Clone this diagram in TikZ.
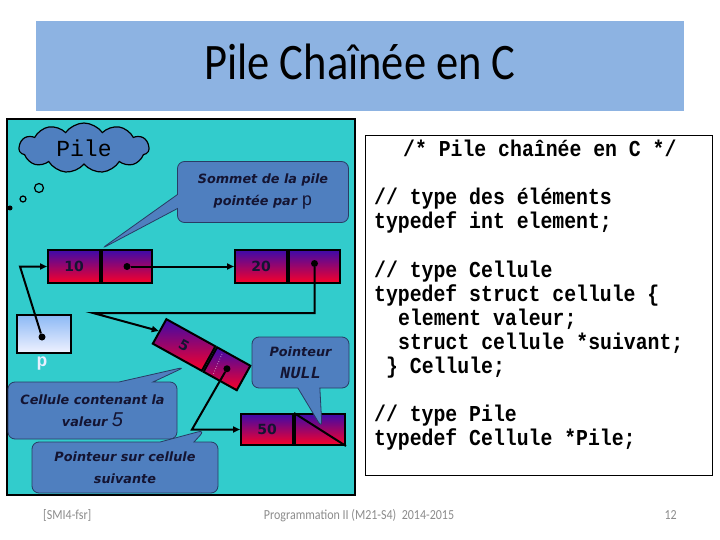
\documentclass[tikz,border=0pt]{standalone}
\usepackage{fontspec}
\setmainfont{Carlito}
\newfontfamily\monof{Liberation Mono}
\newfontfamily\djv{DejaVu Sans}
\newfontfamily\lsans{Liberation Sans}
\usetikzlibrary{shapes.symbols,shapes.callouts,arrows.meta,calc}
\definecolor{banner}{RGB}{141,179,226}
\definecolor{panel}{RGB}{50,204,204}
\definecolor{cblue}{RGB}{79,127,191}
\definecolor{cborder}{RGB}{40,60,100}
\definecolor{ctext}{RGB}{20,20,50}
\definecolor{celltop}{RGB}{60,10,170}
\definecolor{cellbot}{RGB}{250,0,40}
\definecolor{ptop}{RGB}{140,185,245}
\definecolor{pbot}{RGB}{240,242,255}
\definecolor{foot}{RGB}{140,140,140}
\newcommand\vs[1]{\scalebox{1}[1.15]{#1}}
\begin{document}
\begin{tikzpicture}[x=1pt,y=-1pt,
  cellpart/.style={draw=black, line width=2pt, top color=celltop, bottom color=cellbot,
    minimum height=33pt, inner sep=0pt, font=\djv\bfseries\fontsize{14}{16}\selectfont, text=ctext},
  dotnode/.style={circle, fill=black, inner sep=0pt, minimum size=7pt},
  conn/.style={line width=2pt, -{Triangle[length=7pt,width=6pt]}},
  callbox/.style={rectangle callout, draw=cborder, fill=cblue, line width=0.8pt,
    rounded corners=7pt, text=ctext, align=center, inner sep=2pt,
    font=\djv\bfseries\itshape\fontsize{12.8}{22}\selectfont},
  codeline/.style={anchor=base west, inner sep=0pt, font=\monof\bfseries\fontsize{19.8}{24}\selectfont},
  footer/.style={inner sep=0pt, text=foot, font=\fontsize{12}{14}\selectfont}
]
\path[use as bounding box, fill=white] (0,0) rectangle (720,540);

% title banner
\fill[banner] (36,21) rectangle (684,111);
\node[anchor=base, inner sep=0pt, font=\fontsize{44.5}{44}\selectfont] (title) at (360,80) {\vs{Pile Chaînée en C}};

% left panel
\draw[line width=2pt, fill=panel] (7,119) rectangle (355,495);

% code box
\draw[line width=0.6pt] (365,135) rectangle (712,475);
\node[codeline] (code1) at (403,157) {\vs{/* Pile chaînée en C */}};
\node[codeline] (code2) at (374,205) {\vs{// type des éléments}};
\node[codeline] (code3) at (374,229) {\vs{typedef int element;}};
\node[codeline] (code4) at (374,277) {\vs{// type Cellule}};
\node[codeline] (code5) at (374,301) {\vs{typedef struct cellule \{}};
\node[codeline] (code6) at (398,325) {\vs{element valeur;}};
\node[codeline] (code7) at (398,349) {\vs{struct cellule *suivant;}};
\node[codeline] (code8) at (386,373) {\vs{\} Cellule;}};
\node[codeline] (code9) at (374,421) {\vs{// type Pile}};
\node[codeline] (code10) at (374,445) {\vs{typedef Cellule *Pile;}};

% cloud and bubbles
\node[cloud, cloud puffs=11, cloud puff arc=110, aspect=2.6, minimum width=130pt, minimum height=50pt,
  draw=black, line width=1.2pt, fill=cblue, inner sep=0pt,
  font=\monof\fontsize{23}{23}\selectfont] (cloud) at (84,148) {Pile};
\node[circle, draw=black, line width=1.2pt, fill=panel, minimum size=9pt, inner sep=0pt] (bub1) at (39,188) {};
\node[circle, draw=black, line width=1.2pt, fill=panel, minimum size=6pt, inner sep=0pt] (bub2) at (23,199) {};
\node[circle, fill=black, minimum size=5pt, inner sep=0pt] (bub3) at (10,208) {};

% cells 10 and 20
\node[cellpart, minimum width=52pt] (c10v) at (74,266.5) {10};
\node[cellpart, minimum width=50pt, anchor=west] (c10p) at (c10v.east) {};
\node[cellpart, minimum width=52pt] (c20v) at (261,266.5) {20};
\node[cellpart, minimum width=51pt, anchor=west] (c20p) at (c20v.east) {};
\node[dotnode] (d10) at (c10p.center) {};
\node[dotnode] (d20) at ([yshift=3pt]c20p.center) {};

% p box
\node[draw=black, line width=2pt, top color=ptop, bottom color=pbot, minimum width=54pt, minimum height=38pt, inner sep=0pt] (pbox) at (44,334) {};
\node[dotnode] (dp) at (42,337) {};
\node[text={rgb,255:red,232;green,240;blue,255}, font=\monof\bfseries\fontsize{18}{18}\selectfont, inner sep=0pt] (plabel) at (42,364) {p};

% cell 5 (rotated)
\node[cellpart, rotate=-29, minimum width=56pt, minimum height=28pt] (c5v) at (184.1,345) {5};
\node[cellpart, rotate=-29, minimum width=38pt, minimum height=28pt, anchor=west] (c5p) at (c5v.east) {};
\draw[white, dotted, line width=0.6pt] (222,354) -- (213,375);
\node[dotnode] (d5) at (c5p.center) {};

% cell 50
\node[cellpart, minimum width=52pt, minimum height=31pt] (c50v) at (267,429.5) {50};
\node[cellpart, minimum width=50pt, minimum height=31pt, anchor=west] (c50p) at (c50v.east) {};
\draw[line width=2pt] (c50p.north west) -- (c50p.south east);

% connectors
\coordinate (j1) at (20,266.5);
\coordinate (j2) at (93,313);
\coordinate (j3) at (192,429.5);
\draw[conn] (dp) -- (j1) -- (c10v.west);
\draw[conn] (d10) -- (c20v.west);
\draw[conn] (d20) |- (j2) -- (c5v.west);
\draw[conn] (d5) -- (j3) -- (c50v.west);

% callouts
\node[callbox, minimum width=171pt, minimum height=61pt, callout pointer width=14pt,
  callout absolute pointer={(c10v.north east)}] (sommet) at (263,192)
  {Sommet de la pile\\pointée par {\monof\mdseries\upshape\fontsize{18}{18}\selectfont p}};
\node[callbox, minimum width=97pt, minimum height=51pt, callout pointer width=22pt,
  callout absolute pointer={(322,428)}] (nullcall) at (300.5,362.5)
  {Pointeur\\{\monof\fontsize{17}{17}\selectfont NULL}};
\node[callbox, minimum width=169pt, minimum height=57pt, callout pointer width=34pt,
  callout absolute pointer={(185,367)}] (cellcall) at (92.5,410.5)
  {Cellule contenant la\\valeur {\lsans\mdseries\itshape\fontsize{20}{20}\selectfont 5}};
\node[callbox, minimum width=186pt, minimum height=51pt, callout pointer width=34pt,
  callout absolute pointer={(205,430)}] (suivcall) at (125,467.5)
  {Pointeur sur cellule\\suivante};

% footer
\node[footer, anchor=base west] (f1) at (43,519) {\vs{[SMI4-fsr]}};
\node[footer, anchor=base] (f2) at (359,519) {\vs{Programmation II (M21-S4)\ \ 2014-2015}};
\node[footer, anchor=base east] (f3) at (677,519) {\vs{12}};
\end{tikzpicture}
\end{document}
